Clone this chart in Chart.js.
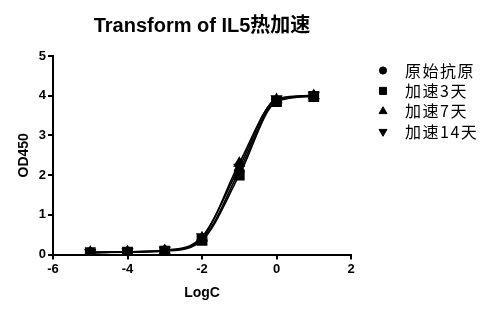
<!DOCTYPE html>
<html>
<head>
<meta charset="utf-8">
<script src="https://cdn.jsdelivr.net/npm/chart.js@4.4.0/dist/chart.umd.min.js"></script>
<style>
  html, body { margin: 0; padding: 0; background: #fff; }
  #wrap { width: 487px; height: 310px; }
</style>
</head>
<body>
<div id="wrap"><canvas id="od450Chart"></canvas></div>
<script>
// Transform of IL5 heat-accelerated samples
const logC = [-5, -4, -3, -2, -1, 0, 1];
const seriesNames = ['原始抗原', '加速3天', '加速7天', '加速14天'];
const original = [0.05, 0.07, 0.10, 0.38, 2.10, 3.88, 4.00];
const day3 = [0.05, 0.06, 0.09, 0.36, 2.00, 3.85, 3.98];
const day7 = [0.06, 0.07, 0.10, 0.42, 2.30, 3.90, 4.00];
const day14 = [0.05, 0.07, 0.11, 0.45, 2.20, 3.92, 4.01];
const yTicks = [0, 1, 2, 3, 4, 5];
const xTicks = [-6, -4, -2, 0, 2];

const styles = [
    { pointStyle: 'circle', rotation: 0, radius: 4.5 },
    { pointStyle: 'rect', rotation: 0, radius: 6.5 },
    { pointStyle: 'triangle', rotation: 0, radius: 5.5 },
    { pointStyle: 'triangle', rotation: 180, radius: 5.5 }
];

function toPoints(values) {
    return logC.map((x, i) => ({ x: x, y: values[i] }));
}

const allValues = [original, day3, day7, day14];
const datasets = allValues.map((vals, i) => ({
    label: seriesNames[i],
    data: toPoints(vals),
    showLine: true,
    borderColor: '#000',
    backgroundColor: '#000',
    borderWidth: 1.6,
    cubicInterpolationMode: 'monotone',
    pointStyle: styles[i].pointStyle,
    pointRotation: styles[i].rotation,
    pointRadius: styles[i].radius,
    pointHoverRadius: styles[i].radius
}));

// legend drawn at the right, like the original plot
const sideLegend = {
    id: 'sideLegend',
    afterDraw(chart) {
        const c = chart.ctx;
        c.save();
        c.fillStyle = '#000';
        c.strokeStyle = '#000';
        c.font = '16px "Noto Sans CJK SC", sans-serif';
        c.letterSpacing = '1.5px';
        c.textBaseline = 'middle';
        chart.data.datasets.forEach((ds, i) => {
            const y = 70.5 + i * 20.4;
            const r = ds.pointStyle === 'rect' ? 5 : (ds.pointStyle === 'circle' ? 3.6 : 4.6);
            Chart.helpers.drawPoint(c, { pointStyle: ds.pointStyle, rotation: ds.pointRotation, radius: r, borderWidth: 1 }, 383, y);
            c.fillText(ds.label, 405, y);
        });
        c.restore();
    }
};

const tickFont = { family: '"Liberation Sans", Arial, sans-serif', size: 13, weight: 'bold' };
const titleFont = { family: '"Liberation Sans", Arial, sans-serif', size: 14, weight: 'bold' };

const ctx = document.getElementById('od450Chart').getContext('2d');
new Chart(ctx, {
    type: 'scatter',
    data: { datasets: datasets },
    plugins: [sideLegend],
    options: {
        responsive: true,
        maintainAspectRatio: false,
        animation: false,
        layout: { padding: { left: 12, right: 136, top: 8, bottom: 4 } },
        plugins: {
            title: {
                display: true,
                text: 'Transform of IL5热加速',
                color: '#000',
                fullSize: false,
                font: { family: '"Liberation Sans", "Noto Sans CJK SC", sans-serif', size: 20, weight: 'bold' },
                padding: { top: 6, bottom: 18 }
            },
            legend: { display: false },
            tooltip: { enabled: false }
        },
        scales: {
            x: {
                type: 'linear',
                min: -6,
                max: 2,
                afterBuildTicks: axis => { axis.ticks = xTicks.map(v => ({ value: v })); },
                ticks: { color: '#000', font: tickFont, padding: 2 },
                grid: { drawOnChartArea: false, drawTicks: true, tickLength: 5, color: '#000', lineWidth: 2 },
                border: { color: '#000', width: 2 },
                title: { display: true, text: 'LogC', color: '#000', font: titleFont, padding: { top: 6 } }
            },
            y: {
                type: 'linear',
                min: 0,
                max: 5,
                afterBuildTicks: axis => { axis.ticks = yTicks.map(v => ({ value: v })); },
                ticks: { color: '#000', font: tickFont, padding: 2 },
                grid: { drawOnChartArea: false, drawTicks: true, tickLength: 5, color: '#000', lineWidth: 2 },
                border: { color: '#000', width: 2 },
                title: { display: true, text: 'OD450', color: '#000', font: titleFont, padding: { bottom: 4 } }
            }
        }
    }
});
</script>
</body>
</html>
